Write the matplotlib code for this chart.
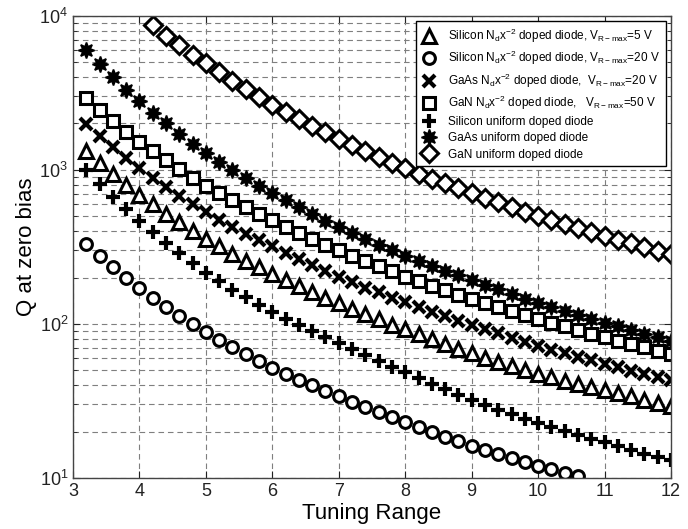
import numpy as np
import matplotlib
matplotlib.use('Agg')
import matplotlib.pyplot as plt
from matplotlib.ticker import LogLocator, NullFormatter, FixedLocator

plt.rcParams['font.family'] = ['Liberation Sans', 'DejaVu Sans']
plt.rcParams['mathtext.fontset'] = 'custom'
plt.rcParams['mathtext.rm'] = 'Liberation Sans'
plt.rcParams['mathtext.it'] = 'Liberation Sans'
plt.rcParams['mathtext.bf'] = 'Liberation Sans:bold'

# Tuning range values (x) for each series
x_full = [3.2, 3.4, 3.6, 3.8, 4.0, 4.2, 4.4, 4.6, 4.8, 5.0, 5.2, 5.4, 5.6, 5.8, 6.0,
          6.2, 6.4, 6.6, 6.8, 7.0, 7.2, 7.4, 7.6, 7.8, 8.0, 8.2, 8.4, 8.6, 8.8, 9.0,
          9.2, 9.4, 9.6, 9.8, 10.0, 10.2, 10.4, 10.6, 10.8, 11.0, 11.2, 11.4, 11.6, 11.8, 12.0]
x_circle = x_full[:38]          # 3.2 ... 10.6
x_diamond = x_full[5:]          # 4.2 ... 12.0

# Q at zero bias
q_si_5v = [1330, 1110, 940, 802, 689, 597, 520, 456, 403, 357, 319, 286, 257, 233, 211, 192, 176,
           161, 148, 136, 125, 116, 107, 99.1, 92, 85.4, 79.4, 74, 69, 64.5, 60.5, 56.9, 53.5, 50.5,
           47.6, 45.2, 42.9, 40.9, 38.9, 37.1, 35.4, 33.8, 32.2, 30.8, 29.5]
q_si_20v = [331, 276, 233, 199, 171, 148, 129, 113, 99.3, 88, 78.6, 70.5, 63.5, 57.3, 52, 47.5,
            43.5, 40, 36.8, 34, 31.3, 28.9, 26.7, 24.8, 23, 21.4, 19.9, 18.5, 17.3, 16.2, 15.2,
            14.3, 13.5, 12.7, 12, 11.4, 10.8, 10.3]
q_gaas_20v = [1990, 1660, 1400, 1200, 1030, 889, 774, 679, 598, 530, 475, 427, 386, 350, 318, 289,
              263, 240, 220, 202, 186, 172, 160, 148, 138, 129, 120, 113, 105, 99, 92.6, 86.8, 81.5,
              76.5, 72, 68.1, 64.4, 61.1, 57.9, 55, 52.3, 49.7, 47.3, 45.1, 43]
q_gan_50v = [2940, 2460, 2080, 1770, 1520, 1320, 1150, 1010, 891, 790, 706, 634, 572, 518, 470, 427,
             389, 356, 326, 300, 276, 255, 236, 219, 203, 189, 177, 165, 155, 145, 136, 128, 121,
             114, 108, 102, 96.5, 91.4, 86.6, 82.2, 78, 74.2, 70.5, 67.2, 64]
q_si_uniform = [1000, 812, 667, 553, 464, 392, 334, 287, 247, 215, 189, 167, 149, 133, 119, 108,
                98.1, 89.5, 81.8, 75, 68.4, 62.6, 57.3, 52.7, 48.5, 44.5, 40.8, 37.6, 34.6, 32,
                29.8, 27.8, 26, 24.3, 22.8, 21.5, 20.2, 19.1, 18, 17, 16.1, 15.2, 14.4, 13.7, 13]
q_gaas_uniform = [5970, 4850, 3980, 3310, 2780, 2350, 2000, 1720, 1480, 1290, 1130, 1000, 886, 789,
                  705, 633, 570, 516, 467, 425, 388, 356, 327, 300, 277, 257, 238, 222, 207, 193,
                  180, 168, 156, 146, 137, 129, 121, 114, 108, 102, 96.5, 91.4, 86.6, 82.2, 78]
q_gan_uniform = [8650, 7430, 6430, 5600, 4900, 4290, 3780, 3340, 2970, 2650, 2380, 2140, 1930, 1750,
                 1590, 1450, 1320, 1210, 1110, 1020, 942, 876, 816, 761, 711, 661, 615, 574, 536,
                 501, 471, 443, 418, 394, 372, 352, 333, 316, 299, 284]

labels = [r'Silicon N$_{\mathrm{d}}$x$^{\mathrm{-2}}$ doped diode, V$_{\mathrm{R-max}}$=5 V',
          r'Silicon N$_{\mathrm{d}}$x$^{\mathrm{-2}}$ doped diode, V$_{\mathrm{R-max}}$=20 V',
          r'GaAs N$_{\mathrm{d}}$x$^{\mathrm{-2}}$ doped diode,  V$_{\mathrm{R-max}}$=20 V',
          r'GaN N$_{\mathrm{d}}$x$^{\mathrm{-2}}$ doped diode,   V$_{\mathrm{R-max}}$=50 V',
          'Silicon uniform doped diode',
          'GaAs uniform doped diode',
          'GaN uniform doped diode']

fig = plt.figure(figsize=(6.88, 5.29), dpi=100)
ax = fig.add_axes([73/688, 1-478/529, (671-73)/688, (478-15.7)/529])
style = dict(ls='none', color='black', mec='black', mfc='white')
ax.plot(x_full, q_si_5v, marker='^', ms=10, mew=2.2, label=labels[0], **style)
ax.plot(x_circle, q_si_20v, marker='o', ms=8.5, mew=2.2, label=labels[1], **style)
ax.plot(x_full, q_gaas_20v, marker='x', ms=8, mew=3, label=labels[2], **style)
ax.plot(x_full, q_gan_50v, marker='s', ms=8, mew=2.2, label=labels[3], **style)
ax.plot(x_full, q_si_uniform, marker='+', ms=10, mew=3, label=labels[4], **style)
ax.plot(x_full, q_gaas_uniform, ls='none', marker=(8, 1, 0), ms=11.5, mew=1.2,
        color='black', mec='black', mfc='black', label=labels[5])
ax.plot(x_diamond, q_gan_uniform, marker='D', ms=9, mew=2.2, label=labels[6], **style)

ax.set_yscale('log')
ax.set_xlim(3, 12)
ax.set_ylim(10, 1e4)
ax.xaxis.set_major_locator(FixedLocator(range(3, 13)))
ax.yaxis.set_major_locator(LogLocator(base=10, numticks=10))
ax.yaxis.set_minor_locator(LogLocator(base=10, subs=np.arange(2, 10), numticks=20))
ax.yaxis.set_minor_formatter(NullFormatter())
ax.grid(True, which='both', axis='y', color='#7f7f7f', ls=(0, (5, 3.5)), lw=0.8)
ax.grid(True, which='major', axis='x', color='#7f7f7f', ls=(0, (5, 3.5)), lw=0.8)
ax.set_axisbelow(True)
ax.tick_params(which='both', direction='in', top=True, right=True, labelsize=13, colors='#222222')
ax.tick_params(which='major', length=5)
ax.tick_params(which='minor', length=3)
for s in ax.spines.values():
    s.set_color('#444444')
    s.set_linewidth(1)
ax.set_xlabel('Tuning Range', fontsize=16, labelpad=2)
ax.set_ylabel('Q at zero bias', fontsize=16, labelpad=2)
leg = ax.legend(loc='upper right', fontsize=8.5, frameon=True, fancybox=False, edgecolor='black',
                framealpha=1, borderaxespad=0.45, handlelength=1.2, handletextpad=1.0,
                labelspacing=0.35, borderpad=0.5)
leg.get_frame().set_linewidth(1)
fig.savefig('out.png', dpi=100)
